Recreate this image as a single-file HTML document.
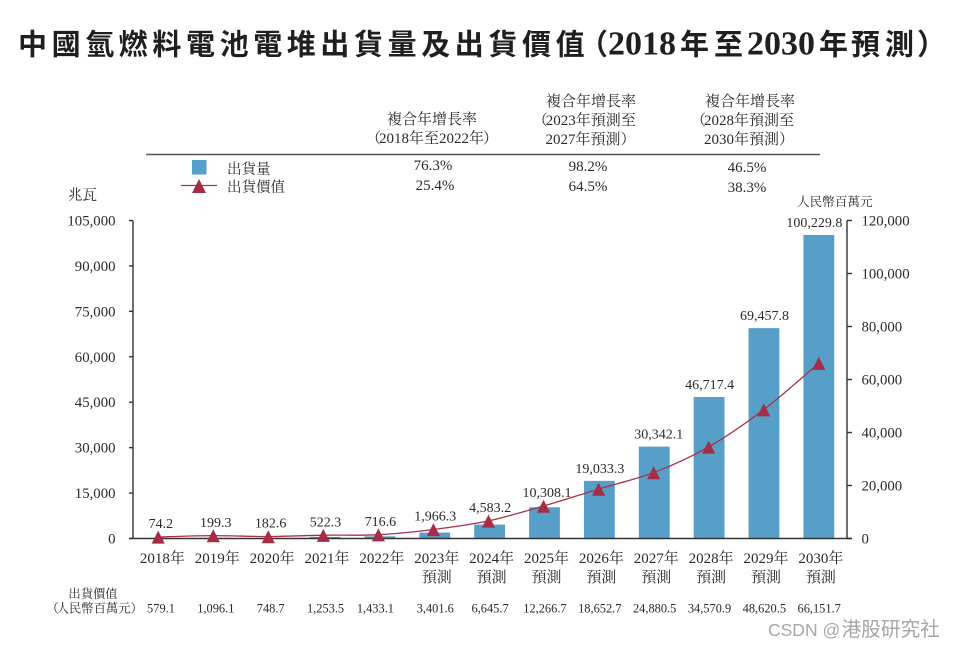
<!DOCTYPE html>
<html lang="zh-Hant">
<head>
<meta charset="utf-8">
<title>中國氫燃料電池電堆出貨量及出貨價值</title>
<style>
html,body{margin:0;padding:0;background:#fff;width:955px;height:649px;overflow:hidden}
svg{display:block}
text{font-family:"Liberation Serif","Noto Serif CJK TC","Noto Serif CJK SC",serif;fill:#2a2a2a;font-size:15px}
.title{font-family:"Liberation Sans","Noto Sans CJK TC","Noto Sans CJK SC",sans-serif;font-weight:700;font-size:29px;fill:#1f1f1f}
.title .num{font-family:"Liberation Serif",serif;font-size:34px;font-weight:700}
.mid{text-anchor:middle}
</style>
</head>
<body>
<svg id="chart" xmlns="http://www.w3.org/2000/svg" width="955" height="649" viewBox="0 0 955 649">
  <text class="title" y="54.5"><tspan x="18" letter-spacing="4.6">中國氫燃料電池電堆出貨量及出貨價值</tspan><tspan x="579">（</tspan><tspan class="num" x="608">2018</tspan><tspan x="680">年</tspan><tspan x="714">至</tspan><tspan class="num" x="747">2030</tspan><tspan x="819">年</tspan><tspan x="851">預</tspan><tspan x="885">測</tspan><tspan x="917">）</tspan></text>

  <g>
    <text class="mid" x="432" y="124">複合年增長率</text>
    <text x="366" y="143">（<tspan dx="-2">2018年至2022年</tspan><tspan dx="-1">）</tspan></text>
    <text class="mid" x="591" y="106">複合年增長率</text>
    <text x="532.7" y="125">（<tspan dx="-2">2023年預測至</tspan></text>
    <text x="545.5" y="144">2027年預測）</text>
    <text class="mid" x="750" y="106">複合年增長率</text>
    <text x="691" y="125">（<tspan dx="-2">2028年預測至</tspan></text>
    <text x="704" y="144">2030年預測）</text>
    <line x1="146" x2="820" y1="154.5" y2="154.5" stroke="#555" stroke-width="1.4"/>
    <text class="mid" x="433" y="170">76.3%</text>
    <text class="mid" x="435" y="190">25.4%</text>
    <text class="mid" x="588" y="171">98.2%</text>
    <text class="mid" x="588" y="191">64.5%</text>
    <text class="mid" x="747" y="172">46.5%</text>
    <text class="mid" x="747" y="192">38.3%</text>
  </g>

  <g>
    <rect x="192" y="160" width="14.5" height="14.5" fill="#569fc9"/>
    <text x="227" y="174" style="font-size:14.5px">出貨量</text>
    <line x1="181" x2="217" y1="185.5" y2="185.5" stroke="#a93246" stroke-width="1.2"/>
    <polygon points="199,179 206,193 192,193" fill="#a52d45"/>
    <text x="227" y="192" style="font-size:14.5px">出貨價值</text>
  </g>

  <text x="68" y="200" style="font-size:14.5px">兆瓦</text>
  <text x="797" y="206" style="font-size:12.6px">人民幣百萬元</text>
  <text class="mid" x="93" y="598" style="font-size:12.3px">出貨價值</text>
  <text x="46.4" y="612.5" style="font-size:12.3px">（<tspan dx="-2">人民幣百萬元</tspan><tspan dx="0">）</tspan></text>
  <text x="768" y="636" style="font-family:'Liberation Sans','Noto Sans CJK SC',sans-serif;font-size:17.5px;fill:#a6a6a6">CSDN @<tspan x="841.5" style="font-size:19.7px">港股研究社</tspan></text>
  <g id="plot"></g>
</svg>
<script>
const categories = ['2018年','2019年','2020年','2021年','2022年','2023年','2024年','2025年','2026年','2027年','2028年','2029年','2030年'];
const forecastFlags = [false,false,false,false,false,true,true,true,true,true,true,true,true];
const shipmentValues = [74.2,199.3,182.6,522.3,716.6,1966.3,4583.2,10308.1,19033.3,30342.1,46717.4,69457.8,100229.8];
const marketValues = [579.1,1096.1,748.7,1253.5,1433.1,3401.6,6645.7,12266.7,18652.7,24880.5,34570.9,48620.5,66151.7];
const leftTicks = [0,15000,30000,45000,60000,75000,90000,105000];
const rightTicks = [0,20000,40000,60000,80000,100000,120000];

const NS = 'http://www.w3.org/2000/svg';
const plot = document.getElementById('plot');
const baseY = 538.5, plotH = 318, leftX = 133, rightX = 847;
const leftMax = 105000, rightMax = 120000;
const yLeft = v => baseY - v / leftMax * plotH;
const yRight = v => baseY - v / rightMax * plotH;
const xBar = i => 160.4 + i * 54.87;
const xMark = i => 158.2 + i * 55.05;
const xCat = i => 162.4 + i * 54.87;
const xRow = i => 161 + i * 54.85;
const fmt = v => v.toLocaleString('en-US');
const fmt1 = v => v.toLocaleString('en-US', {minimumFractionDigits: 1, maximumFractionDigits: 1});

function make(tag, attrs, content) {
  const el = document.createElementNS(NS, tag);
  for (const k in attrs) el.setAttribute(k, attrs[k]);
  if (content !== undefined) el.textContent = content;
  plot.appendChild(el);
  return el;
}

shipmentValues.forEach((v, i) => {
  const top = yLeft(v);
  const el = make('rect', {x: xBar(i) - 15.4, y: top, width: 30.8, height: baseY - top, fill: '#569fc9'});
  
  
});

const axisAttrs = {stroke: '#333', 'stroke-width': 1.4, fill: 'none'};
const base = make('line', Object.assign({x1: 129, x2: 852, y1: baseY, y2: baseY}, axisAttrs));


const lAxis = make('line', Object.assign({x1: leftX, x2: leftX, y1: yLeft(leftMax), y2: baseY}, axisAttrs));


const rAxis = make('line', Object.assign({x1: rightX, x2: rightX, y1: yRight(rightMax), y2: baseY}, axisAttrs));



leftTicks.forEach(t => {
  const tick = make('line', Object.assign({x1: 129, x2: leftX, y1: yLeft(t), y2: yLeft(t)}, axisAttrs));
  
  
  const label = make('text', {x: 115.5, y: yLeft(t) + 5, 'text-anchor': 'end', style: 'font-size:14.8px'}, fmt(t));
  
  
});
rightTicks.forEach(t => {
  const tick = make('line', Object.assign({x1: rightX, x2: 852, y1: yRight(t), y2: yRight(t)}, axisAttrs));
  
  
  const label = make('text', {x: 861.5, y: yRight(t) + 5, style: 'font-size:14.8px'}, fmt(t));
  
  
});

const pts = marketValues.map((v, i) => [xMark(i), yRight(v)]);
let d = 'M' + pts[0][0] + ' ' + pts[0][1];
for (let i = 0; i < pts.length - 1; i++) {
  const p0 = pts[Math.max(i - 1, 0)], p1 = pts[i], p2 = pts[i + 1], p3 = pts[Math.min(i + 2, pts.length - 1)];
  d += ' C' + (p1[0] + (p2[0] - p0[0]) / 6) + ' ' + (p1[1] + (p2[1] - p0[1]) / 6) + ' ' +
       (p2[0] - (p3[0] - p1[0]) / 6) + ' ' + (p2[1] - (p3[1] - p1[1]) / 6) + ' ' + p2[0] + ' ' + p2[1];
}
const valueLine = make('path', {d: d, fill: 'none', stroke: '#a93246', 'stroke-width': 1.3});



pts.forEach((p, i) => {
  const x = p[0], y = p[1] + 0.5;
  const mark = make('polygon', {points: (x) + ',' + (y - 6.8) + ' ' + (x + 6.6) + ',' + (y + 6.2) + ' ' + (x - 6.6) + ',' + (y + 6.2), fill: '#a52d45'});
  
  
});

shipmentValues.forEach((v, i) => {
  const markerTop = yRight(marketValues[i]) - 6.3;
  const labelY = Math.min(yLeft(v) - 8, markerTop - 2.5);
  const labelX = xBar(i) + 0.5 + (i === 7 ? 2 : 0) + (i === 9 ? 4 : 0) - (i === 12 ? 5 : 0);
  const label = make('text', {class: 'mid', x: labelX, y: labelY, style: 'font-size:14px'}, fmt1(v));
  
  
});

categories.forEach((c, i) => {
  const label = make('text', {class: 'mid', x: xCat(i), y: 563}, c);
  
  
  if (forecastFlags[i]) {
    const sub = make('text', {class: 'mid', x: xCat(i), y: 582}, '預測');
    
    
  }
});

marketValues.forEach((v, i) => {
  const label = make('text', {class: 'mid', x: xRow(i) - (i === 4 ? 5 : 0), y: 612.5, style: 'font-size:12.4px'}, fmt1(v));
  
  
});
</script>
</body>
</html>
